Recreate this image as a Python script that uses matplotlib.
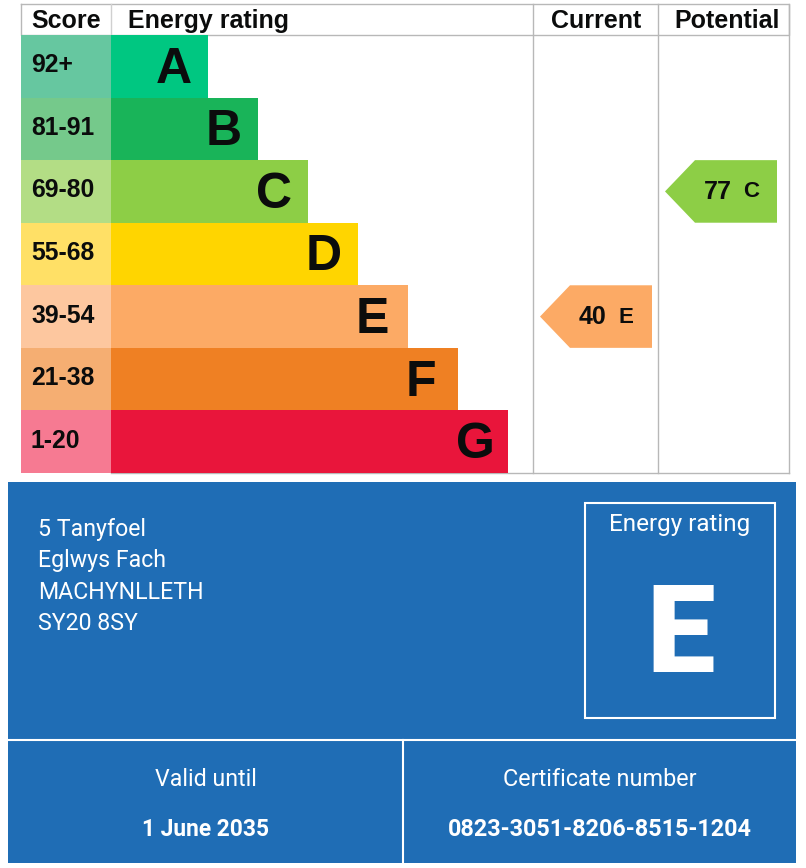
import matplotlib
matplotlib.use("Agg")
import matplotlib.pyplot as plt
from matplotlib.patches import Polygon, Rectangle

# --- Data ---
BANDS = ["A", "B", "C", "D", "E", "F", "G"]
SCORES = ["92+", "81-91", "69-80", "55-68", "39-54", "21-38", "1-20"]
BAR_LENGTHS = [97, 147, 197, 247, 297, 347, 397]
CURRENT_SCORE = 40
CURRENT_BAND = "E"
POTENTIAL_SCORE = 77
POTENTIAL_BAND = "C"
ADDRESS = ["5 Tanyfoel", "Eglwys Fach", "MACHYNLLETH", "SY20 8SY"]
VALID_UNTIL = "1 June 2035"
CERTIFICATE = "0823-3051-8206-8515-1204"

# --- Style ---
BAND_COLORS = ["#00c781", "#19b459", "#8dce46", "#ffd500", "#fcaa65", "#ef8023", "#e9153b"]
SCORE_COLORS = ["#66c7a0", "#75c98b", "#b3dd85", "#ffe066", "#fdc79f", "#f5ae72", "#f67a92"]
GRID = "#b8b8b8"
BLUE = "#1f6db5"
ARIAL = "Liberation Sans"
GDS = "Roboto"

LEFT, SCORE_X, CURRENT_X, POTENTIAL_X, RIGHT = 21, 111, 533, 658, 789
TOP, HEAD, BOTTOM = 4, 35, 473
ROW_H = (BOTTOM - HEAD) / len(BANDS)


def draw_arrow(ax, col_x, band, score):
    row = BANDS.index(band)
    y0 = HEAD + row * ROW_H
    tip = col_x + 7
    body = tip + 30
    end = tip + 112
    pts = [(tip, y0 + ROW_H / 2), (body, y0), (end, y0), (end, y0 + ROW_H), (body, y0 + ROW_H)]
    ax.add_patch(Polygon(pts, closed=True, fc=BAND_COLORS[row], ec="none", zorder=3))
    ax.text(tip + 52.5, y0 + ROW_H / 2 + 0.5, str(score), fontsize=18, fontweight="bold", family=ARIAL,
            color="#0b0c0c", ha="center", va="center", zorder=4)
    ax.text(tip + 86, y0 + ROW_H / 2 + 0.5, band, fontsize=16, fontweight="bold", family=ARIAL,
            color="#0b0c0c", ha="center", va="center", zorder=4)


def draw_chart(ax):
    # grid lines under the bars
    ax.plot([LEFT, RIGHT, RIGHT, LEFT, LEFT], [TOP, TOP, HEAD, HEAD, TOP], color=GRID, lw=1)
    ax.plot([SCORE_X, SCORE_X], [TOP, HEAD], color="#d0d0d0", lw=1)
    for x in [CURRENT_X, POTENTIAL_X, RIGHT]:
        ax.plot([x, x], [TOP, BOTTOM], color=GRID, lw=1)
    ax.plot([SCORE_X, RIGHT], [BOTTOM, BOTTOM], color=GRID, lw=1)

    for i, band in enumerate(BANDS):
        y = HEAD + (i + 0.5) * ROW_H
        ax.barh(y, SCORE_X - LEFT, ROW_H, left=LEFT, color=SCORE_COLORS[i], zorder=2)
        ax.barh(y, BAR_LENGTHS[i], ROW_H, left=SCORE_X, color=BAND_COLORS[i], zorder=2)
        ax.text(31, y - 1, SCORES[i], fontsize=17.8, fontweight="bold", family=ARIAL,
                color="#0b0c0c", ha="left", va="center", zorder=3)
        ax.text(SCORE_X + BAR_LENGTHS[i] - 52.5, y + 3.5, band, fontsize=36, fontweight="bold", family=ARIAL,
                color="#0b0c0c", ha="left", va="center", zorder=3)

    head_y = (TOP + HEAD) / 2 + 1.5
    ax.text(31.5, head_y, "Score", fontsize=18, fontweight="bold", family=ARIAL, color="#0b0c0c", ha="left", va="center")
    ax.text(128, head_y, "Energy rating", fontsize=18, fontweight="bold", family=ARIAL, color="#0b0c0c", ha="left", va="center")
    ax.text(596.5, head_y, "Current", fontsize=18, fontweight="bold", family=ARIAL, color="#0b0c0c", ha="center", va="center")
    ax.text(727, head_y, "Potential", fontsize=18, fontweight="bold", family=ARIAL, color="#0b0c0c", ha="center", va="center")

    draw_arrow(ax, CURRENT_X, CURRENT_BAND, CURRENT_SCORE)
    draw_arrow(ax, POTENTIAL_X, POTENTIAL_BAND, POTENTIAL_SCORE)


def draw_panel(ax):
    ax.add_patch(Rectangle((8, 482), 788, 381, fc=BLUE, ec="none"))
    ax.plot([8, 796], [740, 740], color="white", lw=1.5)
    ax.plot([403, 403], [740, 863], color="white", lw=1.5)
    ax.add_patch(Rectangle((585, 503), 190, 215, fc="none", ec="white", lw=1.5))

    for i, line in enumerate(ADDRESS):
        ax.text(38, 529.5 + i * 31.3, line, fontsize=16.7, family=GDS, color="white", ha="left", va="center")

    ax.text(680, 525, "Energy rating", fontsize=17.5, family=GDS, color="white", ha="center", va="center")
    ax.text(681, 639, CURRENT_BAND, fontsize=88, fontweight="black", family=GDS, color="white", ha="center", va="center")
    ax.text(206, 779, "Valid until", fontsize=16.7, family=GDS, color="white", ha="center", va="center")
    ax.text(205, 830, VALID_UNTIL, fontsize=16.4, fontweight="bold", family=GDS, color="white", ha="center", va="center")
    ax.text(600, 779, "Certificate number", fontsize=16.8, family=GDS, color="white", ha="center", va="center")
    ax.text(600, 830, CERTIFICATE, fontsize=16.8, fontweight="bold", family=GDS, color="white", ha="center", va="center")


def main():
    fig = plt.figure(figsize=(8.06, 8.68), dpi=100)
    ax = fig.add_axes([0, 0, 1, 1])
    ax.set_xlim(0, 806)
    ax.set_ylim(868, 0)
    ax.axis("off")
    draw_chart(ax)
    draw_panel(ax)
    fig.savefig("out.png", dpi=100)
    plt.close(fig)


if __name__ == "__main__":
    main()
